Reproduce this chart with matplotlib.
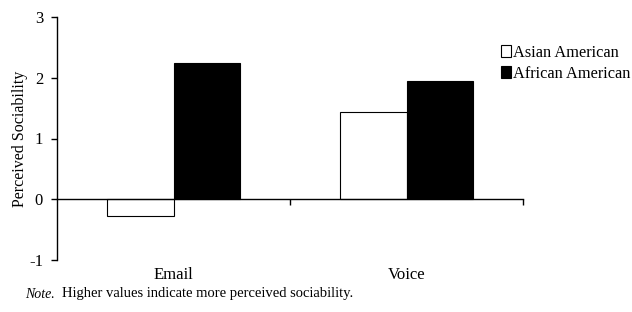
import numpy as np
import matplotlib.pyplot as plt
from matplotlib.patches import Patch

plt.rcParams['font.family'] = ['Liberation Serif', 'DejaVu Serif']

categories = ["Email", "Voice"]
asian = [-0.28, 1.44]
african = [2.24, 1.94]
series_names = ["Asian American", "African American"]


def plot_chart():
    fig = plt.figure(figsize=(6.32, 3.12), dpi=100)
    ax = fig.add_axes([57 / 632, 1 - 260 / 312, 466 / 632, 243 / 312])

    x = np.arange(len(categories))
    w = 0.286
    ax.bar(x - w / 2, asian, w, color="white", edgecolor="black", linewidth=0.8)
    ax.bar(x + w / 2, african, w, color="black", edgecolor="black", linewidth=0.8)

    ax.set_xlim(-0.5, len(categories) - 0.5)
    ax.set_ylim(-1, 3)
    ax.set_yticks([-1, 0, 1, 2, 3])
    ax.set_yticklabels(["-1", "0", "1", "2", "3"], fontsize=12)

    ax.spines["top"].set_visible(False)
    ax.spines["right"].set_visible(False)
    ax.spines["bottom"].set_position(("data", 0))
    ax.spines["left"].set_linewidth(1.0)
    ax.spines["bottom"].set_linewidth(1.0)

    ax.set_xticks([0.5, 1.5])
    ax.set_xticklabels([])
    ax.tick_params(axis="x", direction="out", length=4, width=1)
    ax.tick_params(axis="y", direction="out", length=4, width=1, pad=6)

    for xi, name in zip(x, categories):
        ax.text(xi, -1.24, name, ha="center", va="center", fontsize=12)

    ax.set_ylabel("Perceived Sociability", fontsize=11.5, labelpad=1)

    handles = [Patch(facecolor="white", edgecolor="black", linewidth=0.8),
               Patch(facecolor="black", edgecolor="black", linewidth=0.8)]
    fig.legend(handles, series_names, loc="upper left",
               bbox_to_anchor=(0.782, 0.877), frameon=False, fontsize=11.8,
               handlelength=0.65, handleheight=0.7, handletextpad=0.12,
               labelspacing=0.28, borderaxespad=0)

    fig.text(25 / 632, 1 - 294 / 312, "Note.", style="italic", fontsize=10,
             va="center")
    fig.text(62 / 632, 1 - 294 / 312,
             "Higher values indicate more perceived sociability.",
             fontsize=10.5, va="center")

    fig.savefig("out.png", dpi=100)


if __name__ == "__main__":
    plot_chart()
